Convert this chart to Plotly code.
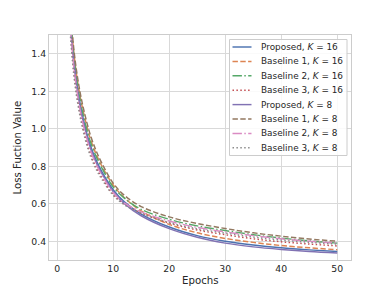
import plotly.graph_objects as go

epochs = [2, 3, 4, 5, 6, 7, 8, 10, 12, 15, 20, 25, 30, 35, 40, 45, 50]

proposed_k16 = [1.75, 1.36, 1.15, 1.01, 0.905, 0.83, 0.77, 0.675, 0.61, 0.545, 0.476, 0.43, 0.40, 0.38, 0.365, 0.354, 0.345]
baseline1_k16 = [1.80, 1.40, 1.19, 1.05, 0.94, 0.862, 0.80, 0.70, 0.632, 0.562, 0.49, 0.445, 0.415, 0.394, 0.377, 0.365, 0.355]
baseline2_k16 = [1.78, 1.385, 1.17, 1.03, 0.925, 0.85, 0.79, 0.69, 0.63, 0.57, 0.517, 0.482, 0.457, 0.435, 0.417, 0.402, 0.39]
baseline3_k16 = [1.68, 1.30, 1.095, 0.96, 0.862, 0.792, 0.738, 0.65, 0.598, 0.55, 0.497, 0.46, 0.435, 0.413, 0.397, 0.385, 0.375]
proposed_k8 = [1.73, 1.345, 1.135, 0.995, 0.892, 0.818, 0.76, 0.665, 0.60, 0.536, 0.467, 0.421, 0.39, 0.37, 0.356, 0.345, 0.337]
baseline1_k8 = [1.82, 1.42, 1.21, 1.07, 0.96, 0.88, 0.815, 0.71, 0.645, 0.585, 0.53, 0.495, 0.468, 0.445, 0.427, 0.412, 0.40]
baseline2_k8 = [1.71, 1.325, 1.115, 0.98, 0.88, 0.808, 0.752, 0.66, 0.605, 0.557, 0.508, 0.474, 0.45, 0.43, 0.413, 0.40, 0.39]
baseline3_k8 = [1.66, 1.28, 1.08, 0.945, 0.85, 0.782, 0.73, 0.645, 0.595, 0.55, 0.50, 0.466, 0.443, 0.422, 0.406, 0.394, 0.385]

x_ticks = [0, 10, 20, 30, 40, 50]
y_ticks = [0.4, 0.6, 0.8, 1.0, 1.2, 1.4]

LW = 1.45
DASHED = "5.4px,2.4px"
DASHDOT = "9.4px,2.4px,1.5px,2.4px"
DOTTED = "1.5px,2.4px"

series = [
    ("Proposed, <i>K</i> = 16", proposed_k16, "#4C72B0", "solid"),
    ("Baseline 1, <i>K</i> = 16", baseline1_k16, "#DD8452", DASHED),
    ("Baseline 2, <i>K</i> = 16", baseline2_k16, "#55A868", DASHDOT),
    ("Baseline 3, <i>K</i> = 16", baseline3_k16, "#C44E52", DOTTED),
    ("Proposed, <i>K</i> = 8", proposed_k8, "#8172B3", "solid"),
    ("Baseline 1, <i>K</i> = 8", baseline1_k8, "#937860", DASHED),
    ("Baseline 2, <i>K</i> = 8", baseline2_k8, "#DA8BC3", DASHDOT),
    ("Baseline 3, <i>K</i> = 8", baseline3_k8, "#8C8C8C", DOTTED),
]

# page has an 8px body margin: compensate so the plot area lands at
# page pixels x 49..351, y 35..260
OFF = 8
W, H = 390, 292
PX0, PX1, PY0, PY1 = 49, 351, 35, 260
L, T = PX0 - OFF, PY0 - OFF
R, B = W - (PX1 - OFF), H - (PY1 - OFF)
PW, PH = PX1 - PX0, PY1 - PY0

def dx(px):
    return (px - PX0) / PW

def dy(py):
    return 1 - (py - PY0) / PH

FONT = "DejaVu Sans"
TXT = "#262626"
FS_TICK = 9.3
FS_LEG = 8.9
FS_LABEL = 10.2

fig = go.Figure()
for name, vals, color, dash in series:
    fig.add_trace(go.Scatter(
        x=epochs, y=vals, name=name, mode="lines", showlegend=False,
        line=dict(color=color, width=LW, dash=dash, shape="spline", smoothing=1.0),
    ))

# manual legend (matplotlib-like compact layout)
shapes = [dict(type="rect", xref="x domain", yref="y domain",
               x0=dx(229.5), x1=dx(347), y0=dy(155.5), y1=dy(39.5),
               line=dict(color="#cccccc", width=1), fillcolor="rgba(255,255,255,0.85)", layer="above")]
annotations = []
row0, step = 47.0, 14.4
for i, (name, vals, color, dash) in enumerate(series):
    yc = row0 + i * step
    shapes.append(dict(type="line", xref="x domain", yref="y domain",
                       x0=dx(232.5), x1=dx(251.5), y0=dy(yc), y1=dy(yc),
                       line=dict(color=color, width=LW, dash=dash), layer="above"))
    annotations.append(dict(xref="x domain", yref="y domain", x=dx(258.5), y=dy(yc),
                            xanchor="left", yanchor="middle", text=name, showarrow=False,
                            font=dict(family=FONT, size=FS_LEG, color=TXT)))

# axis titles
annotations.append(dict(xref="x domain", yref="y domain", x=0.5, y=dy(280), xanchor="center",
                        yanchor="middle", text="Epochs", showarrow=False,
                        font=dict(family=FONT, size=FS_LABEL, color=TXT)))
annotations.append(dict(xref="x domain", yref="y domain", x=dx(17), y=0.5, xanchor="center",
                        yanchor="middle", text="Loss Fuction Value", textangle=-90, showarrow=False,
                        font=dict(family=FONT, size=FS_LABEL, color=TXT)))

axis_common = dict(
    showgrid=True, gridcolor="#d9d9d9", gridwidth=1,
    showline=True, linecolor="#cccccc", linewidth=1, mirror=True,
    zeroline=False, ticks="", ticklen=0, automargin=False,
    tickfont=dict(family=FONT, size=FS_TICK, color=TXT),
)

fig.update_layout(
    width=W, height=H,
    margin=dict(l=L, r=R, t=T, b=B, pad=0),
    paper_bgcolor="white", plot_bgcolor="white",
    font=dict(family=FONT, size=FS_TICK, color=TXT),
    xaxis=dict(range=[-1.45, 52.45], tickvals=x_ticks, **axis_common),
    yaxis=dict(range=[0.3, 1.5], tickvals=y_ticks, tickformat=".1f", **axis_common),
    shapes=shapes, annotations=annotations, showlegend=False,
)

fig.write_html("out.html")
